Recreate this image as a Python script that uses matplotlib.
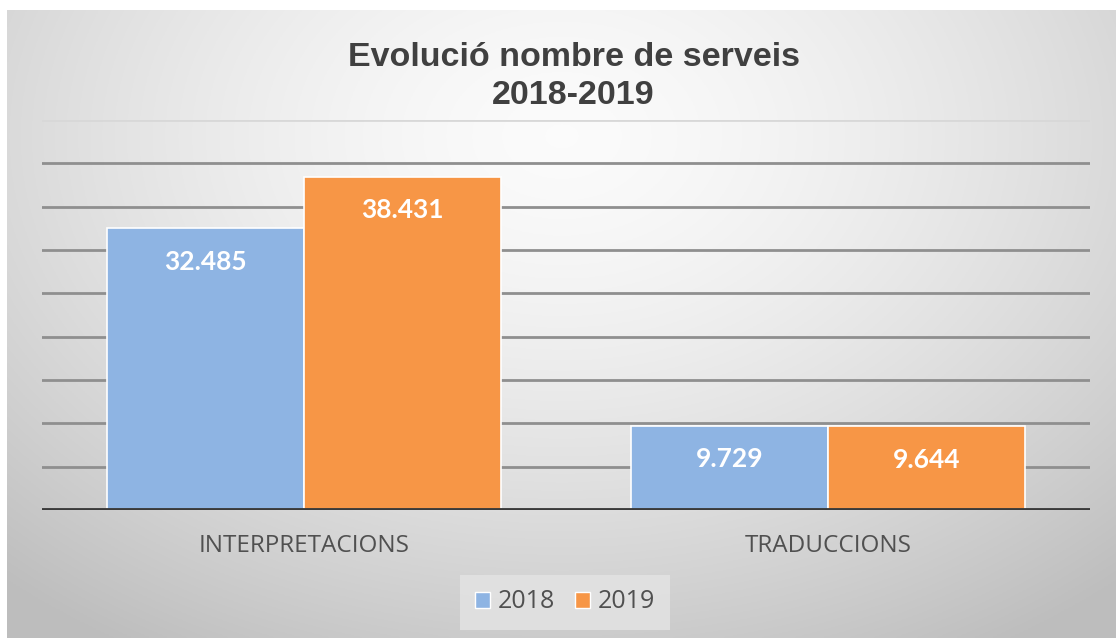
import numpy as np
import matplotlib.pyplot as plt
from matplotlib.patches import Patch

categories = ['INTERPRETACIONS', 'TRADUCCIONS']
years = ['2018', '2019']
values_2018 = [32485, 9729]
values_2019 = [38431, 9644]
colors = ['#8eb4e3', '#f79646']

def fmt(v):
    return f'{v:,}'.replace(',', '.')

fig = plt.figure(figsize=(11.16, 6.38), dpi=100)
fig.patch.set_facecolor('white')

# fons amb degradat radial
bg = fig.add_axes([0.006, 0, 0.994, 0.984])
yy, xx = np.mgrid[0:1:300j, 0:1:500j]
r = np.sqrt(((xx - 0.5) / 0.75) ** 2 + ((yy - 0.2) / 0.95) ** 2)
r = np.clip(r, 0, 1)
shade = 0.985 - 0.24 * r ** 1.5
bg.imshow(np.dstack([shade] * 3), aspect='auto', extent=[0, 1, 1, 0])
bg.set_axis_off()

ax = fig.add_axes([42 / 1116, 1 - 510 / 638, 1048 / 1116, 390 / 638])
ax.patch.set_alpha(0)

x = np.arange(len(categories))
w = 0.376
b1 = ax.bar(x - w / 2, values_2018, w, color=colors[0], edgecolor='white', linewidth=1.2, zorder=3)
b2 = ax.bar(x + w / 2, values_2019, w, color=colors[1], edgecolor='white', linewidth=1.2, zorder=3)

for bars, vals in [(b1, values_2018), (b2, values_2019)]:
    for bar, v in zip(bars, vals):
        ax.annotate(fmt(v), (bar.get_x() + bar.get_width() / 2, v), xytext=(0, -24),
                    textcoords='offset points', ha='center', va='center',
                    color='white', fontsize=19, fontweight='bold', family='Lato', zorder=4)

ax.set_xlim(-0.5, 1.5)
ax.set_ylim(0, 45000)
ax.set_yticks(np.arange(0, 45001, 5000))
for yv in np.arange(5000, 45001, 5000):
    ax.axhline(yv, color='#8f8f8f' if yv < 45000 else '#d8d8d8', lw=2, zorder=1)
ax.axhline(0, color='#3a3a3a', lw=3.5, zorder=5)
for s in ax.spines.values():
    s.set_visible(False)
ax.tick_params(left=False, bottom=False, labelleft=False)
ax.set_xticks(x)
ax.set_xticklabels(categories, fontsize=17.5, color='#505050', family='Open Sans')
ax.tick_params(axis='x', pad=14)

title_font = ['Liberation Sans Narrow', 'Liberation Sans']
fig.text(0.514, 1 - 57 / 638, 'Evolució nombre de serveis', ha='center', va='center',
         fontsize=24.5, fontweight='bold', color='#404040', family=title_font)
fig.text(0.514, 1 - 95 / 638, '2018-2019', ha='center', va='center',
         fontsize=24.5, fontweight='bold', color='#404040', family=title_font)

handles = [Patch(facecolor=c, edgecolor='white') for c in colors]
leg = fig.legend(handles, years, loc='center', bbox_to_anchor=(565 / 1116, 1 - 602 / 638), ncol=2,
                 frameon=True, handlelength=0.6, handleheight=0.6, handletextpad=0.3,
                 columnspacing=0.8, borderpad=0.3, borderaxespad=0.0,
                 prop={'family': 'Open Sans', 'size': 18})
leg.get_frame().set_facecolor('#e4e4e4')
leg.get_frame().set_edgecolor('none')
leg.get_frame().set_alpha(0.8)
leg.get_frame().set_boxstyle('square')
for t in leg.get_texts():
    t.set_color('#505050')

fig.savefig('out.png', dpi=100)
